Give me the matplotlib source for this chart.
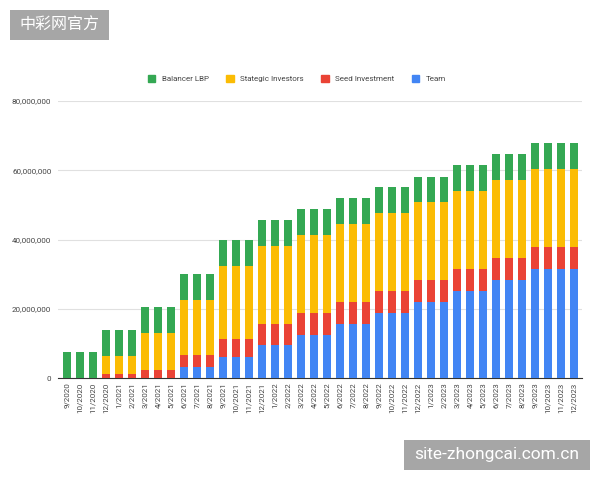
import matplotlib.pyplot as plt
import matplotlib.patches as mpatches
from matplotlib.ticker import FuncFormatter
import numpy as np

# monthly labels 9/2020 .. 12/2023
months = ["9/2020", "10/2020", "11/2020", "12/2020",
          "1/2021", "2/2021", "3/2021", "4/2021", "5/2021", "6/2021",
          "7/2021", "8/2021", "9/2021", "10/2021", "11/2021", "12/2021",
          "1/2022", "2/2022", "3/2022", "4/2022", "5/2022", "6/2022",
          "7/2022", "8/2022", "9/2022", "10/2022", "11/2022", "12/2022",
          "1/2023", "2/2023", "3/2023", "4/2023", "5/2023", "6/2023",
          "7/2023", "8/2023", "9/2023", "10/2023", "11/2023", "12/2023"]

# values in millions
team = [0, 0, 0, 0, 0, 0, 0, 0, 0,
        3.15, 3.15, 3.15, 6.2, 6.2, 6.2, 9.45, 9.45, 9.45,
        12.5, 12.5, 12.5, 15.7, 15.7, 15.7, 18.8, 18.8, 18.8,
        22.0, 22.0, 22.0, 25.1, 25.1, 25.1, 28.4, 28.4, 28.4,
        31.5, 31.5, 31.5, 31.5]
seed = [0, 0, 0, 1.25, 1.25, 1.25, 2.4, 2.4, 2.4,
        3.65, 3.65, 3.65, 5.0, 5.0, 5.0, 6.2, 6.2, 6.2,
        6.3, 6.3, 6.3, 6.3, 6.3, 6.3, 6.3, 6.3, 6.3,
        6.2, 6.2, 6.2, 6.3, 6.3, 6.3, 6.2, 6.2, 6.2,
        6.2, 6.2, 6.2, 6.2]
strategic = [0, 0, 0, 5.2, 5.2, 5.2, 10.6, 10.6, 10.6,
             15.8, 15.8, 15.8, 21.1, 21.1, 21.1, 22.6, 22.6, 22.6,
             22.6, 22.6, 22.6, 22.5, 22.5, 22.5, 22.5, 22.5, 22.5,
             22.5, 22.5, 22.5, 22.6, 22.6, 22.6, 22.6, 22.6, 22.6,
             22.6, 22.6, 22.6, 22.6]
balancer = [7.45] * 40

series = [("Team", team, "#4285f4"),
          ("Seed Investment", seed, "#ea4335"),
          ("Stategic Investors", strategic, "#fbbc04"),
          ("Balancer LBP", balancer, "#34a853")]

plt.rcParams['font.family'] = ['Roboto', 'DejaVu Sans']

fig = plt.figure(figsize=(6, 4.8), dpi=100)
ax = fig.add_axes([0.097, 0.212, 0.8725, 0.578])

x = np.arange(len(months))
bottom = np.zeros(len(months))
for name, vals, color in series:
    v = np.array(vals) * 1e6
    ax.bar(x, v, bottom=bottom, width=0.64, color=color, label=name, zorder=3)
    bottom += v

ax.set_xlim(-0.68, len(months) - 0.4)
ax.set_ylim(0, 80e6)
ax.set_yticks([0, 20e6, 40e6, 60e6, 80e6])
ax.yaxis.set_major_formatter(FuncFormatter(lambda v, p: f"{int(v):,}"))
ax.set_xticks(x)
ax.set_xticklabels(months, rotation=90)
ax.tick_params(axis='both', length=0, labelsize=5.8, colors='#444444')
ax.tick_params(axis='y', pad=5)
ax.tick_params(axis='x', pad=3)
ax.grid(axis='y', color='#e0e0e0', linewidth=0.8, zorder=0)
for s in ['top', 'right', 'left']:
    ax.spines[s].set_visible(False)
ax.spines['bottom'].set_color('#333333')
ax.spines['bottom'].set_linewidth(0.8)

handles = [mpatches.Patch(color=c, label=n) for n, _, c in series[::-1]]
fig.legend(handles=handles, loc='center', bbox_to_anchor=(0.495, 0.836), ncol=4,
           frameon=False, fontsize=5.8, handlelength=0.9, handleheight=0.9,
           handletextpad=0.8, columnspacing=2.2, labelcolor='#444444')

# watermarks (grey boxes in pixel positions of a 600x480 canvas)
fig.patches.append(mpatches.Rectangle((10 / 600, 1 - 39.5 / 480), 98.5 / 600, 29.5 / 480,
                                      transform=fig.transFigure, fc='#a6a6a6', ec='none'))
fig.text(59 / 600, 1 - 25 / 480, "中彩网官方", ha='center', va='center', color='white',
         fontsize=11.5, family=['Noto Sans CJK SC', 'DejaVu Sans'])
fig.patches.append(mpatches.Rectangle((404 / 600, 1 - 469.5 / 480), 186 / 600, 29.5 / 480,
                                      transform=fig.transFigure, fc='#a6a6a6', ec='none'))
fig.text(497 / 600, 1 - 455 / 480, "site-zhongcai.com.cn", ha='center', va='center',
         color='white', fontsize=12.5)

fig.savefig("out.png", dpi=100)
